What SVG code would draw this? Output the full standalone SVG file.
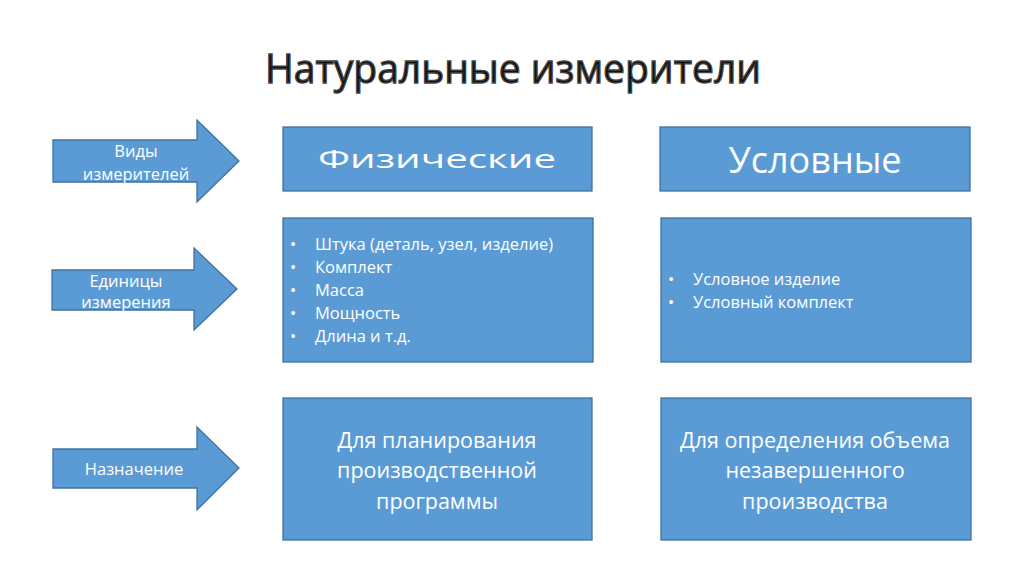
<svg xmlns="http://www.w3.org/2000/svg" width="1024" height="574" viewBox="0 0 1024 574">
<style>
.shape{fill:#5B9BD5;stroke:#41719C;stroke-width:1.3}
.t{font-family:"Open Sans","Noto Sans","Liberation Sans",sans-serif;fill:#ffffff}
.title{font-family:"Open Sans","Noto Sans","Liberation Sans",sans-serif;font-size:40px;fill:#111111;stroke:#444;stroke-width:1.3}
</style>
<rect width="1024" height="574" fill="#ffffff"/>
<g id="title"><text class="title" x="513" y="83" text-anchor="middle" textLength="496" lengthAdjust="spacingAndGlyphs">Натуральные измерители</text></g>
<g id="connectors"></g>
<g id="arrow-vidy">
<path class="shape" d="M53,140 H197 V120 L239,161 L197,202 V182 H53 Z"/>
<text class="t" font-size="16.5" text-anchor="middle" x="136" y="157">Виды</text>
<text class="t" font-size="16.5" text-anchor="middle" x="136" y="180">измерителей</text>
</g>
<g id="arrow-edinicy">
<path class="shape" d="M52,270 H194 V248 L237,289 L194,330 V310 H52 Z"/>
<text class="t" font-size="16.5" text-anchor="middle" x="126" y="287">Единицы</text>
<text class="t" font-size="16.5" text-anchor="middle" x="126" y="308">измерения</text>
</g>
<g id="arrow-naznachenie">
<path class="shape" d="M53,449 H197 V427 L239,468 L197,510 V488 H53 Z"/>
<text class="t" font-size="16.5" text-anchor="middle" x="134" y="475">Назначение</text>
</g>
<g id="box-fiz">
<rect class="shape" x="283" y="127" width="309" height="64"/>
<text class="t" font-size="25" text-anchor="middle" x="437" y="168" textLength="238" lengthAdjust="spacingAndGlyphs">Физические</text>
</g>
<g id="box-usl">
<rect class="shape" x="660" y="127" width="310" height="64"/>
<text class="t" font-size="36" text-anchor="middle" x="815" y="173">Условные</text>
</g>
<g id="box-fiz-units">
<rect class="shape" x="283" y="218" width="310" height="144"/>
<g class="t" font-size="16.5">
<text x="290" y="250">•</text><text x="315" y="250">Штука (деталь, узел, изделие)</text>
<text x="290" y="273">•</text><text x="315" y="273">Комплект</text>
<text x="290" y="296">•</text><text x="315" y="296">Масса</text>
<text x="290" y="319">•</text><text x="315" y="319">Мощность</text>
<text x="290" y="342">•</text><text x="315" y="342">Длина и т.д.</text>
</g>
</g>
<g id="box-usl-units">
<rect class="shape" x="661" y="218" width="310" height="144"/>
<g class="t" font-size="16.5">
<text x="668" y="285">•</text><text x="693" y="285">Условное изделие</text>
<text x="668" y="308">•</text><text x="693" y="308">Условный комплект</text>
</g>
</g>
<g id="box-fiz-purpose">
<rect class="shape" x="283" y="398" width="309" height="142"/>
<g class="t" font-size="21.5" text-anchor="middle">
<text x="437" y="448">Для планирования</text>
<text x="437" y="478">производственной</text>
<text x="437" y="509">программы</text>
</g>
</g>
<g id="box-usl-purpose">
<rect class="shape" x="661" y="398" width="310" height="142"/>
<g class="t" font-size="21.5" text-anchor="middle">
<text x="815" y="448">Для определения объема</text>
<text x="815" y="478">незавершенного</text>
<text x="815" y="509">производства</text>
</g>
</g>
</svg>
